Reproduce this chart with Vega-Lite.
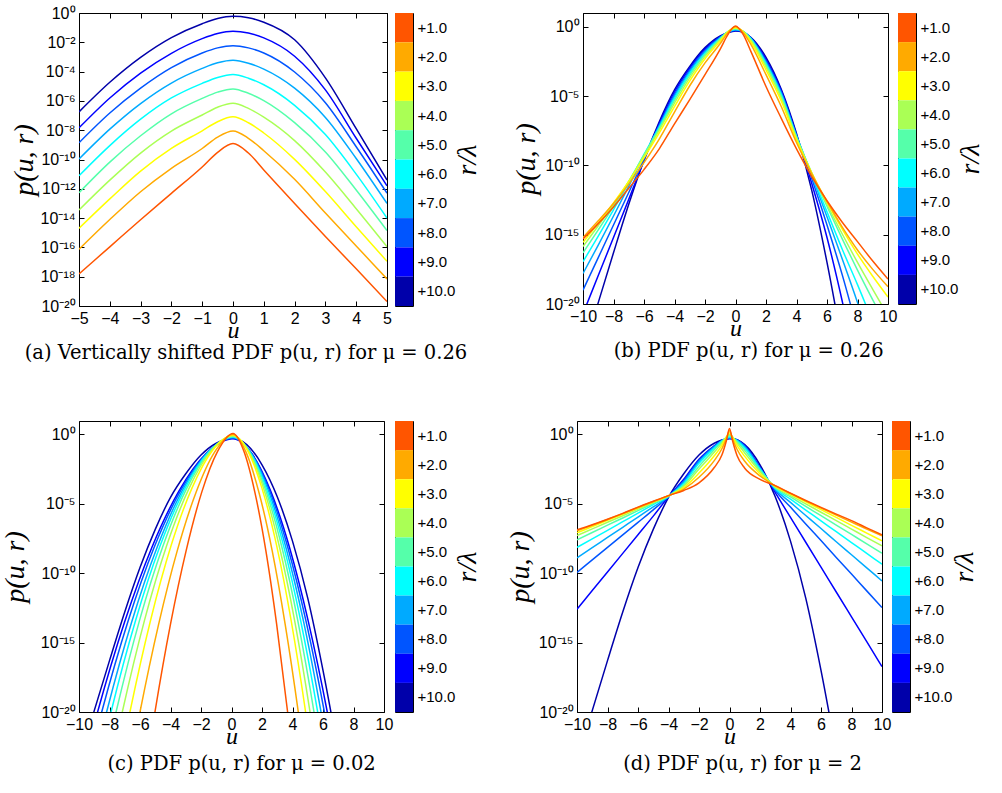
{
"$schema": "https://vega.github.io/schema/vega-lite/v6.json",
"padding": {"left": 0, "top": 4, "right": 5, "bottom": 5},
"config": {
  "font": "Liberation Sans",
  "view": {"stroke": "#000", "strokeWidth": 1},
  "axis": {"labelFont": "Liberation Sans", "labelFontSize": 16, "labelColor": "#000", "tickColor": "#000", "titleColor": "#000", "grid": false, "domain": false, "tickSize": -5, "labelPadding": 9, "labelOverlap": false, "labelFlush": false, "titleFont": "Liberation Serif", "titleFontStyle": "italic", "titleFontWeight": "normal", "titleFontSize": 28},
  "axisX": {"titleFontSize": 24},
  "title": {"font": "DejaVu Serif", "fontSize": 19.5, "fontWeight": "normal", "color": "#000", "orient": "bottom", "anchor": "middle", "offset": 1}
},
"datasets": {
"cbar": [{"r":1,"lab":"+1.0","w":1},{"r":2,"lab":"+2.0","w":1},{"r":3,"lab":"+3.0","w":1},{"r":4,"lab":"+4.0","w":1},{"r":5,"lab":"+5.0","w":1},{"r":6,"lab":"+6.0","w":1},{"r":7,"lab":"+7.0","w":1},{"r":8,"lab":"+8.0","w":1},{"r":9,"lab":"+9.0","w":1},{"r":10,"lab":"+10.0","w":1}],
"a": [
{"r":10,"u":-5,"log10p":-6.75},{"r":10,"u":-4,"log10p":-4.73},{"r":10,"u":-3,"log10p":-3.03},{"r":10,"u":-2,"log10p":-1.68},{"r":10,"u":-1,"log10p":-0.73},{"r":10,"u":-0.5,"log10p":-0.38},{"r":10,"u":0,"log10p":-0.23},{"r":10,"u":0.5,"log10p":-0.33},{"r":10,"u":1,"log10p":-0.63},{"r":10,"u":2,"log10p":-1.83},{"r":10,"u":3,"log10p":-4.43},{"r":10,"u":4,"log10p":-7.9},{"r":10,"u":5,"log10p":-11.4},
{"r":9,"u":-5,"log10p":-7.84},{"r":9,"u":-4,"log10p":-5.8},{"r":9,"u":-3,"log10p":-4.1},{"r":9,"u":-2,"log10p":-2.75},{"r":9,"u":-1,"log10p":-1.75},{"r":9,"u":-0.5,"log10p":-1.4},{"r":9,"u":0,"log10p":-1.25},{"r":9,"u":0.5,"log10p":-1.37},{"r":9,"u":1,"log10p":-1.7},{"r":9,"u":2,"log10p":-2.95},{"r":9,"u":3,"log10p":-5.25},{"r":9,"u":4,"log10p":-8.55},{"r":9,"u":5,"log10p":-11.8},
{"r":8,"u":-5,"log10p":-8.86},{"r":8,"u":-4,"log10p":-6.83},{"r":8,"u":-3,"log10p":-5.13},{"r":8,"u":-2,"log10p":-3.73},{"r":8,"u":-1,"log10p":-2.73},{"r":8,"u":-0.5,"log10p":-2.38},{"r":8,"u":0,"log10p":-2.23},{"r":8,"u":0.5,"log10p":-2.38},{"r":8,"u":1,"log10p":-2.73},{"r":8,"u":2,"log10p":-4.03},{"r":8,"u":3,"log10p":-6.13},{"r":8,"u":4,"log10p":-9.13},{"r":8,"u":5,"log10p":-12.3},
{"r":7,"u":-5,"log10p":-9.97},{"r":7,"u":-4,"log10p":-7.93},{"r":7,"u":-3,"log10p":-6.18},{"r":7,"u":-2,"log10p":-4.78},{"r":7,"u":-1,"log10p":-3.78},{"r":7,"u":-0.5,"log10p":-3.4},{"r":7,"u":0,"log10p":-3.23},{"r":7,"u":0.5,"log10p":-3.43},{"r":7,"u":1,"log10p":-3.83},{"r":7,"u":2,"log10p":-5.13},{"r":7,"u":3,"log10p":-7.13},{"r":7,"u":4,"log10p":-9.93},{"r":7,"u":5,"log10p":-13.0},
{"r":6,"u":-5,"log10p":-11.11},{"r":6,"u":-4,"log10p":-9.05},{"r":6,"u":-3,"log10p":-7.25},{"r":6,"u":-2,"log10p":-5.8},{"r":6,"u":-1,"log10p":-4.8},{"r":6,"u":-0.5,"log10p":-4.4},{"r":6,"u":0,"log10p":-4.2},{"r":6,"u":0.5,"log10p":-4.45},{"r":6,"u":1,"log10p":-4.9},{"r":6,"u":2,"log10p":-6.3},{"r":6,"u":3,"log10p":-8.3},{"r":6,"u":4,"log10p":-11.0},{"r":6,"u":5,"log10p":-14.0},
{"r":5,"u":-5,"log10p":-12.27},{"r":5,"u":-4,"log10p":-10.18},{"r":5,"u":-3,"log10p":-8.38},{"r":5,"u":-2,"log10p":-6.88},{"r":5,"u":-1,"log10p":-5.83},{"r":5,"u":-0.5,"log10p":-5.4},{"r":5,"u":0,"log10p":-5.18},{"r":5,"u":0.5,"log10p":-5.48},{"r":5,"u":1,"log10p":-5.98},{"r":5,"u":2,"log10p":-7.48},{"r":5,"u":3,"log10p":-9.48},{"r":5,"u":4,"log10p":-12.08},{"r":5,"u":5,"log10p":-14.85},
{"r":4,"u":-5,"log10p":-13.45},{"r":4,"u":-4,"log10p":-11.41},{"r":4,"u":-3,"log10p":-9.56},{"r":4,"u":-2,"log10p":-8.06},{"r":4,"u":-1,"log10p":-6.96},{"r":4,"u":-0.5,"log10p":-6.43},{"r":4,"u":0,"log10p":-6.16},{"r":4,"u":0.5,"log10p":-6.51},{"r":4,"u":1,"log10p":-7.11},{"r":4,"u":2,"log10p":-8.71},{"r":4,"u":3,"log10p":-10.86},{"r":4,"u":4,"log10p":-13.36},{"r":4,"u":5,"log10p":-15.95},
{"r":3,"u":-5,"log10p":-14.7},{"r":3,"u":-4,"log10p":-12.69},{"r":3,"u":-3,"log10p":-10.79},{"r":3,"u":-2,"log10p":-9.24},{"r":3,"u":-1,"log10p":-8.04},{"r":3,"u":-0.5,"log10p":-7.42},{"r":3,"u":0,"log10p":-7.09},{"r":3,"u":0.5,"log10p":-7.49},{"r":3,"u":1,"log10p":-8.19},{"r":3,"u":2,"log10p":-9.99},{"r":3,"u":3,"log10p":-12.19},{"r":3,"u":4,"log10p":-14.59},{"r":3,"u":5,"log10p":-16.95},
{"r":2,"u":-5,"log10p":-16.13},{"r":2,"u":-4,"log10p":-14.1},{"r":2,"u":-3,"log10p":-12.2},{"r":2,"u":-2,"log10p":-10.6},{"r":2,"u":-1,"log10p":-9.25},{"r":2,"u":-0.5,"log10p":-8.47},{"r":2,"u":0,"log10p":-8.05},{"r":2,"u":0.5,"log10p":-8.55},{"r":2,"u":1,"log10p":-9.4},{"r":2,"u":2,"log10p":-11.35},{"r":2,"u":3,"log10p":-13.65},{"r":2,"u":4,"log10p":-15.9},{"r":2,"u":5,"log10p":-18.15},
{"r":1,"u":-5,"log10p":-17.81},{"r":1,"u":-4,"log10p":-15.96},{"r":1,"u":-3,"log10p":-14.11},{"r":1,"u":-2,"log10p":-12.31},{"r":1,"u":-1,"log10p":-10.51},{"r":1,"u":-0.5,"log10p":-9.51},{"r":1,"u":0,"log10p":-8.91},{"r":1,"u":0.5,"log10p":-9.56},{"r":1,"u":1,"log10p":-10.71},{"r":1,"u":2,"log10p":-13.01},{"r":1,"u":3,"log10p":-15.26},{"r":1,"u":4,"log10p":-17.46},{"r":1,"u":5,"log10p":-19.7}
],
"b": [
{"r":10,"u":-10,"log10p":-23.6},{"r":10,"u":-9,"log10p":-19.9},{"r":10,"u":-8,"log10p":-16.3},{"r":10,"u":-7,"log10p":-12.8},{"r":10,"u":-6,"log10p":-9.6},{"r":10,"u":-5,"log10p":-6.85},{"r":10,"u":-4,"log10p":-4.55},{"r":10,"u":-3,"log10p":-2.85},{"r":10,"u":-2,"log10p":-1.5},{"r":10,"u":-1,"log10p":-0.65},{"r":10,"u":-0.5,"log10p":-0.42},{"r":10,"u":0,"log10p":-0.3},{"r":10,"u":0.5,"log10p":-0.4},{"r":10,"u":1,"log10p":-0.75},{"r":10,"u":2,"log10p":-2.2},{"r":10,"u":3,"log10p":-4.5},{"r":10,"u":4,"log10p":-7.7},{"r":10,"u":5,"log10p":-11.8},{"r":10,"u":6,"log10p":-17.0},{"r":10,"u":7,"log10p":-22.9},
{"r":9,"u":-10,"log10p":-20.7},{"r":9,"u":-9,"log10p":-17.95},{"r":9,"u":-8,"log10p":-15.2},{"r":9,"u":-7,"log10p":-12.45},{"r":9,"u":-6,"log10p":-9.65},{"r":9,"u":-5,"log10p":-6.98},{"r":9,"u":-4,"log10p":-4.7},{"r":9,"u":-3,"log10p":-2.97},{"r":9,"u":-2,"log10p":-1.6},{"r":9,"u":-1,"log10p":-0.7},{"r":9,"u":-0.5,"log10p":-0.41},{"r":9,"u":0,"log10p":-0.27},{"r":9,"u":0.5,"log10p":-0.38},{"r":9,"u":1,"log10p":-0.78},{"r":9,"u":2,"log10p":-2.35},{"r":9,"u":3,"log10p":-4.6},{"r":9,"u":4,"log10p":-7.8},{"r":9,"u":5,"log10p":-11.3},{"r":9,"u":6,"log10p":-15.2},{"r":9,"u":7,"log10p":-19.8},{"r":9,"u":8,"log10p":-25.0},
{"r":8,"u":-10,"log10p":-19.0},{"r":8,"u":-9,"log10p":-16.65},{"r":8,"u":-8,"log10p":-14.3},{"r":8,"u":-7,"log10p":-11.95},{"r":8,"u":-6,"log10p":-9.55},{"r":8,"u":-5,"log10p":-7.1},{"r":8,"u":-4,"log10p":-4.85},{"r":8,"u":-3,"log10p":-3.1},{"r":8,"u":-2,"log10p":-1.7},{"r":8,"u":-1,"log10p":-0.74},{"r":8,"u":-0.5,"log10p":-0.4},{"r":8,"u":0,"log10p":-0.24},{"r":8,"u":0.5,"log10p":-0.35},{"r":8,"u":1,"log10p":-0.8},{"r":8,"u":2,"log10p":-2.45},{"r":8,"u":3,"log10p":-4.7},{"r":8,"u":4,"log10p":-7.85},{"r":8,"u":5,"log10p":-10.95},{"r":8,"u":6,"log10p":-14.3},{"r":8,"u":7,"log10p":-17.9},{"r":8,"u":8,"log10p":-21.9},
{"r":7,"u":-10,"log10p":-17.8},{"r":7,"u":-9,"log10p":-15.75},{"r":7,"u":-8,"log10p":-13.65},{"r":7,"u":-7,"log10p":-11.5},{"r":7,"u":-6,"log10p":-9.3},{"r":7,"u":-5,"log10p":-7.15},{"r":7,"u":-4,"log10p":-5.0},{"r":7,"u":-3,"log10p":-3.22},{"r":7,"u":-2,"log10p":-1.8},{"r":7,"u":-1,"log10p":-0.78},{"r":7,"u":-0.5,"log10p":-0.39},{"r":7,"u":0,"log10p":-0.21},{"r":7,"u":0.5,"log10p":-0.34},{"r":7,"u":1,"log10p":-0.82},{"r":7,"u":2,"log10p":-2.55},{"r":7,"u":3,"log10p":-4.8},{"r":7,"u":4,"log10p":-7.85},{"r":7,"u":5,"log10p":-10.7},{"r":7,"u":6,"log10p":-13.7},{"r":7,"u":7,"log10p":-16.75},{"r":7,"u":8,"log10p":-19.9},{"r":7,"u":9,"log10p":-23.3},
{"r":6,"u":-10,"log10p":-16.95},{"r":6,"u":-9,"log10p":-15.1},{"r":6,"u":-8,"log10p":-13.2},{"r":6,"u":-7,"log10p":-11.25},{"r":6,"u":-6,"log10p":-9.2},{"r":6,"u":-5,"log10p":-7.25},{"r":6,"u":-4,"log10p":-5.15},{"r":6,"u":-3,"log10p":-3.35},{"r":6,"u":-2,"log10p":-1.9},{"r":6,"u":-1,"log10p":-0.82},{"r":6,"u":-0.5,"log10p":-0.37},{"r":6,"u":0,"log10p":-0.18},{"r":6,"u":0.5,"log10p":-0.33},{"r":6,"u":1,"log10p":-0.85},{"r":6,"u":2,"log10p":-2.65},{"r":6,"u":3,"log10p":-4.9},{"r":6,"u":4,"log10p":-7.95},{"r":6,"u":5,"log10p":-10.65},{"r":6,"u":6,"log10p":-13.35},{"r":6,"u":7,"log10p":-16.05},{"r":6,"u":8,"log10p":-18.6},{"r":6,"u":9,"log10p":-21.3},
{"r":5,"u":-10,"log10p":-16.3},{"r":5,"u":-9,"log10p":-14.65},{"r":5,"u":-8,"log10p":-12.95},{"r":5,"u":-7,"log10p":-11.15},{"r":5,"u":-6,"log10p":-9.25},{"r":5,"u":-5,"log10p":-7.35},{"r":5,"u":-4,"log10p":-5.3},{"r":5,"u":-3,"log10p":-3.5},{"r":5,"u":-2,"log10p":-2.0},{"r":5,"u":-1,"log10p":-0.86},{"r":5,"u":-0.5,"log10p":-0.35},{"r":5,"u":0,"log10p":-0.14},{"r":5,"u":0.5,"log10p":-0.32},{"r":5,"u":1,"log10p":-0.9},{"r":5,"u":2,"log10p":-2.75},{"r":5,"u":3,"log10p":-5.0},{"r":5,"u":4,"log10p":-7.95},{"r":5,"u":5,"log10p":-10.55},{"r":5,"u":6,"log10p":-12.95},{"r":5,"u":7,"log10p":-15.3},{"r":5,"u":8,"log10p":-17.55},{"r":5,"u":9,"log10p":-19.7},{"r":5,"u":10,"log10p":-21.8},
{"r":4,"u":-10,"log10p":-15.85},{"r":4,"u":-9,"log10p":-14.35},{"r":4,"u":-8,"log10p":-12.8},{"r":4,"u":-7,"log10p":-11.15},{"r":4,"u":-6,"log10p":-9.3},{"r":4,"u":-5,"log10p":-7.45},{"r":4,"u":-4,"log10p":-5.5},{"r":4,"u":-3,"log10p":-3.68},{"r":4,"u":-2,"log10p":-2.13},{"r":4,"u":-1,"log10p":-0.92},{"r":4,"u":-0.5,"log10p":-0.34},{"r":4,"u":0,"log10p":-0.1},{"r":4,"u":0.5,"log10p":-0.32},{"r":4,"u":1,"log10p":-0.97},{"r":4,"u":2,"log10p":-2.9},{"r":4,"u":3,"log10p":-5.15},{"r":4,"u":4,"log10p":-8.05},{"r":4,"u":5,"log10p":-10.55},{"r":4,"u":6,"log10p":-12.8},{"r":4,"u":7,"log10p":-14.95},{"r":4,"u":8,"log10p":-17.0},{"r":4,"u":9,"log10p":-18.95},{"r":4,"u":10,"log10p":-20.85},
{"r":3,"u":-10,"log10p":-15.55},{"r":3,"u":-9,"log10p":-14.15},{"r":3,"u":-8,"log10p":-12.7},{"r":3,"u":-7,"log10p":-11.15},{"r":3,"u":-6,"log10p":-9.45},{"r":3,"u":-5,"log10p":-7.65},{"r":3,"u":-4,"log10p":-5.75},{"r":3,"u":-3,"log10p":-3.9},{"r":3,"u":-2,"log10p":-2.3},{"r":3,"u":-1,"log10p":-1.02},{"r":3,"u":-0.5,"log10p":-0.36},{"r":3,"u":0,"log10p":-0.06},{"r":3,"u":0.5,"log10p":-0.34},{"r":3,"u":1,"log10p":-1.07},{"r":3,"u":2,"log10p":-3.1},{"r":3,"u":3,"log10p":-5.35},{"r":3,"u":4,"log10p":-8.15},{"r":3,"u":5,"log10p":-10.55},{"r":3,"u":6,"log10p":-12.65},{"r":3,"u":7,"log10p":-14.6},{"r":3,"u":8,"log10p":-16.4},{"r":3,"u":9,"log10p":-18.0},{"r":3,"u":10,"log10p":-19.5},
{"r":2,"u":-10,"log10p":-15.2},{"r":2,"u":-9,"log10p":-14.0},{"r":2,"u":-8,"log10p":-12.75},{"r":2,"u":-7,"log10p":-11.35},{"r":2,"u":-6,"log10p":-9.8},{"r":2,"u":-5,"log10p":-8.1},{"r":2,"u":-4,"log10p":-6.15},{"r":2,"u":-3,"log10p":-4.25},{"r":2,"u":-2,"log10p":-2.6},{"r":2,"u":-1,"log10p":-1.2},{"r":2,"u":-0.5,"log10p":-0.42},{"r":2,"u":0,"log10p":0.0},{"r":2,"u":0.5,"log10p":-0.4},{"r":2,"u":1,"log10p":-1.25},{"r":2,"u":2,"log10p":-3.45},{"r":2,"u":3,"log10p":-5.75},{"r":2,"u":4,"log10p":-8.35},{"r":2,"u":5,"log10p":-10.6},{"r":2,"u":6,"log10p":-12.6},{"r":2,"u":7,"log10p":-14.45},{"r":2,"u":8,"log10p":-16.1},{"r":2,"u":9,"log10p":-17.5},{"r":2,"u":10,"log10p":-18.75},
{"r":1,"u":-10,"log10p":-15.3},{"r":1,"u":-9,"log10p":-14.2},{"r":1,"u":-8,"log10p":-13.0},{"r":1,"u":-7,"log10p":-11.65},{"r":1,"u":-6,"log10p":-10.3},{"r":1,"u":-5,"log10p":-8.8},{"r":1,"u":-4,"log10p":-7.0},{"r":1,"u":-3,"log10p":-5.25},{"r":1,"u":-2,"log10p":-3.45},{"r":1,"u":-1,"log10p":-1.6},{"r":1,"u":-0.5,"log10p":-0.56},{"r":1,"u":0,"log10p":0.06},{"r":1,"u":0.5,"log10p":-0.55},{"r":1,"u":1,"log10p":-1.75},{"r":1,"u":2,"log10p":-4.3},{"r":1,"u":3,"log10p":-6.6},{"r":1,"u":4,"log10p":-8.8},{"r":1,"u":5,"log10p":-10.8},{"r":1,"u":6,"log10p":-12.55},{"r":1,"u":7,"log10p":-14.1},{"r":1,"u":8,"log10p":-15.5},{"r":1,"u":9,"log10p":-16.9},{"r":1,"u":10,"log10p":-18.2}
],
"c": [
{"r":10,"u":-10,"log10p":-23.6},{"r":10,"u":-9,"log10p":-19.9},{"r":10,"u":-8,"log10p":-16.3},{"r":10,"u":-7,"log10p":-12.8},{"r":10,"u":-6,"log10p":-9.6},{"r":10,"u":-5,"log10p":-6.85},{"r":10,"u":-4,"log10p":-4.55},{"r":10,"u":-3,"log10p":-2.85},{"r":10,"u":-2,"log10p":-1.5},{"r":10,"u":-1,"log10p":-0.65},{"r":10,"u":-0.5,"log10p":-0.42},{"r":10,"u":0,"log10p":-0.3},{"r":10,"u":0.5,"log10p":-0.4},{"r":10,"u":1,"log10p":-0.75},{"r":10,"u":2,"log10p":-2.2},{"r":10,"u":3,"log10p":-4.5},{"r":10,"u":4,"log10p":-7.7},{"r":10,"u":5,"log10p":-11.8},{"r":10,"u":6,"log10p":-17.0},{"r":10,"u":7,"log10p":-22.9},
{"r":9,"u":-9.67,"log10p":-23.68},{"r":9,"u":-8.78,"log10p":-20},{"r":9,"u":-7.0,"log10p":-13.49},{"r":9,"u":-5.23,"log10p":-8.17},{"r":9,"u":-3.45,"log10p":-4.1},{"r":9,"u":-1.68,"log10p":-1.41},{"r":9,"u":0.1,"log10p":-0.32},{"r":9,"u":1.34,"log10p":-1.41},{"r":9,"u":2.57,"log10p":-4.1},{"r":9,"u":3.81,"log10p":-8.17},{"r":9,"u":5.04,"log10p":-13.49},{"r":9,"u":6.28,"log10p":-20},{"r":9,"u":6.9,"log10p":-23.68},
{"r":8,"u":-9.37,"log10p":-23.69},{"r":8,"u":-8.51,"log10p":-20},{"r":8,"u":-6.79,"log10p":-13.48},{"r":8,"u":-5.07,"log10p":-8.14},{"r":8,"u":-3.34,"log10p":-4.07},{"r":8,"u":-1.62,"log10p":-1.37},{"r":8,"u":0.1,"log10p":-0.28},{"r":8,"u":1.3,"log10p":-1.37},{"r":8,"u":2.5,"log10p":-4.07},{"r":8,"u":3.69,"log10p":-8.14},{"r":8,"u":4.89,"log10p":-13.48},{"r":8,"u":6.09,"log10p":-20},{"r":8,"u":6.69,"log10p":-23.69},
{"r":7,"u":-9.02,"log10p":-23.7},{"r":7,"u":-8.19,"log10p":-20},{"r":7,"u":-6.53,"log10p":-13.46},{"r":7,"u":-4.87,"log10p":-8.12},{"r":7,"u":-3.22,"log10p":-4.04},{"r":7,"u":-1.56,"log10p":-1.33},{"r":7,"u":0.1,"log10p":-0.24},{"r":7,"u":1.25,"log10p":-1.33},{"r":7,"u":2.41,"log10p":-4.04},{"r":7,"u":3.56,"log10p":-8.12},{"r":7,"u":4.72,"log10p":-13.46},{"r":7,"u":5.87,"log10p":-20},{"r":7,"u":6.45,"log10p":-23.7},
{"r":6,"u":-8.7,"log10p":-23.7},{"r":6,"u":-7.9,"log10p":-20},{"r":6,"u":-6.3,"log10p":-13.45},{"r":6,"u":-4.7,"log10p":-8.09},{"r":6,"u":-3.1,"log10p":-4.01},{"r":6,"u":-1.5,"log10p":-1.29},{"r":6,"u":0.1,"log10p":-0.2},{"r":6,"u":1.21,"log10p":-1.29},{"r":6,"u":2.32,"log10p":-4.01},{"r":6,"u":3.43,"log10p":-8.09},{"r":6,"u":4.54,"log10p":-13.45},{"r":6,"u":5.65,"log10p":-20},{"r":6,"u":6.21,"log10p":-23.7},
{"r":5,"u":-8.34,"log10p":-23.71},{"r":5,"u":-7.57,"log10p":-20},{"r":5,"u":-6.04,"log10p":-13.44},{"r":5,"u":-4.5,"log10p":-8.07},{"r":5,"u":-2.97,"log10p":-3.97},{"r":5,"u":-1.43,"log10p":-1.26},{"r":5,"u":0.1,"log10p":-0.16},{"r":5,"u":1.16,"log10p":-1.26},{"r":5,"u":2.22,"log10p":-3.97},{"r":5,"u":3.29,"log10p":-8.07},{"r":5,"u":4.35,"log10p":-13.44},{"r":5,"u":5.41,"log10p":-20},{"r":5,"u":5.94,"log10p":-23.71},
{"r":4,"u":-7.89,"log10p":-23.72},{"r":4,"u":-7.16,"log10p":-20},{"r":4,"u":-5.71,"log10p":-13.42},{"r":4,"u":-4.26,"log10p":-8.05},{"r":4,"u":-2.8,"log10p":-3.94},{"r":4,"u":-1.35,"log10p":-1.22},{"r":4,"u":0.1,"log10p":-0.12},{"r":4,"u":1.11,"log10p":-1.22},{"r":4,"u":2.12,"log10p":-3.94},{"r":4,"u":3.13,"log10p":-8.05},{"r":4,"u":4.14,"log10p":-13.42},{"r":4,"u":5.15,"log10p":-20},{"r":4,"u":5.66,"log10p":-23.72},
{"r":3,"u":-7.34,"log10p":-23.73},{"r":3,"u":-6.66,"log10p":-20},{"r":3,"u":-5.31,"log10p":-13.41},{"r":3,"u":-3.96,"log10p":-8.02},{"r":3,"u":-2.6,"log10p":-3.9},{"r":3,"u":-1.25,"log10p":-1.17},{"r":3,"u":0.1,"log10p":-0.07},{"r":3,"u":1.05,"log10p":-1.17},{"r":3,"u":2.0,"log10p":-3.9},{"r":3,"u":2.96,"log10p":-8.02},{"r":3,"u":3.91,"log10p":-13.41},{"r":3,"u":4.86,"log10p":-20},{"r":3,"u":5.34,"log10p":-23.73},
{"r":2,"u":-6.61,"log10p":-23.51},{"r":2,"u":-6.0,"log10p":-20},{"r":2,"u":-4.78,"log10p":-13.69},{"r":2,"u":-3.56,"log10p":-8.4},{"r":2,"u":-2.34,"log10p":-4.23},{"r":2,"u":-1.12,"log10p":-1.31},{"r":2,"u":0.1,"log10p":-0.02},{"r":2,"u":0.96,"log10p":-1.31},{"r":2,"u":1.81,"log10p":-4.23},{"r":2,"u":2.67,"log10p":-8.4},{"r":2,"u":3.52,"log10p":-13.69},{"r":2,"u":4.38,"log10p":-20},{"r":2,"u":4.81,"log10p":-23.51},
{"r":1,"u":-5.53,"log10p":-23.52},{"r":1,"u":-5.02,"log10p":-20},{"r":1,"u":-4.0,"log10p":-13.67},{"r":1,"u":-2.97,"log10p":-8.36},{"r":1,"u":-1.95,"log10p":-4.17},{"r":1,"u":-0.92,"log10p":-1.25},{"r":1,"u":0.1,"log10p":0.05},{"r":1,"u":0.82,"log10p":-1.25},{"r":1,"u":1.53,"log10p":-4.17},{"r":1,"u":2.25,"log10p":-8.36},{"r":1,"u":2.96,"log10p":-13.67},{"r":1,"u":3.68,"log10p":-20},{"r":1,"u":4.04,"log10p":-23.52}
],
"d": [
{"r":10,"u":-10,"log10p":-23.6},{"r":10,"u":-9,"log10p":-19.9},{"r":10,"u":-8,"log10p":-16.3},{"r":10,"u":-7,"log10p":-12.8},{"r":10,"u":-6,"log10p":-9.6},{"r":10,"u":-5,"log10p":-6.85},{"r":10,"u":-4,"log10p":-4.55},{"r":10,"u":-3,"log10p":-2.85},{"r":10,"u":-2,"log10p":-1.5},{"r":10,"u":-1,"log10p":-0.65},{"r":10,"u":-0.5,"log10p":-0.42},{"r":10,"u":0,"log10p":-0.3},{"r":10,"u":0.5,"log10p":-0.4},{"r":10,"u":1,"log10p":-0.75},{"r":10,"u":2,"log10p":-2.2},{"r":10,"u":3,"log10p":-4.5},{"r":10,"u":4,"log10p":-7.7},{"r":10,"u":5,"log10p":-11.8},{"r":10,"u":6,"log10p":-17.0},{"r":10,"u":7,"log10p":-22.9},
{"r":9,"u":-10,"log10p":-12.6},{"r":9,"u":-9,"log10p":-11.26},{"r":9,"u":-8,"log10p":-9.92},{"r":9,"u":-7,"log10p":-8.58},{"r":9,"u":-6,"log10p":-7.24},{"r":9,"u":-5,"log10p":-5.9},{"r":9,"u":-4,"log10p":-4.5},{"r":9,"u":-3,"log10p":-3.25},{"r":9,"u":-2,"log10p":-1.8},{"r":9,"u":-1,"log10p":-0.83},{"r":9,"u":-0.5,"log10p":-0.45},{"r":9,"u":0,"log10p":-0.32},{"r":9,"u":0.5,"log10p":-0.41},{"r":9,"u":1,"log10p":-0.82},{"r":9,"u":2,"log10p":-2.4},{"r":9,"u":3,"log10p":-4.2},{"r":9,"u":4,"log10p":-5.99},{"r":9,"u":5,"log10p":-7.78},{"r":9,"u":6,"log10p":-9.57},{"r":9,"u":7,"log10p":-11.36},{"r":9,"u":8,"log10p":-13.15},{"r":9,"u":9,"log10p":-14.94},{"r":9,"u":10,"log10p":-16.73},
{"r":8,"u":-10,"log10p":-9.95},{"r":8,"u":-9,"log10p":-9.05},{"r":8,"u":-8,"log10p":-8.15},{"r":8,"u":-7,"log10p":-7.25},{"r":8,"u":-6,"log10p":-6.35},{"r":8,"u":-5,"log10p":-5.45},{"r":8,"u":-4,"log10p":-4.48},{"r":8,"u":-3,"log10p":-3.35},{"r":8,"u":-2,"log10p":-1.88},{"r":8,"u":-1,"log10p":-0.86},{"r":8,"u":-0.5,"log10p":-0.46},{"r":8,"u":0,"log10p":-0.3},{"r":8,"u":0.5,"log10p":-0.42},{"r":8,"u":1,"log10p":-0.85},{"r":8,"u":2,"log10p":-2.42},{"r":8,"u":3,"log10p":-4.05},{"r":8,"u":4,"log10p":-5.25},{"r":8,"u":5,"log10p":-6.46},{"r":8,"u":6,"log10p":-7.66},{"r":8,"u":7,"log10p":-8.87},{"r":8,"u":8,"log10p":-10.07},{"r":8,"u":9,"log10p":-11.28},{"r":8,"u":10,"log10p":-12.48},
{"r":7,"u":-10,"log10p":-8.9},{"r":7,"u":-9,"log10p":-8.17},{"r":7,"u":-8,"log10p":-7.43},{"r":7,"u":-7,"log10p":-6.7},{"r":7,"u":-6,"log10p":-5.97},{"r":7,"u":-5,"log10p":-5.23},{"r":7,"u":-4,"log10p":-4.5},{"r":7,"u":-3,"log10p":-3.45},{"r":7,"u":-2,"log10p":-1.98},{"r":7,"u":-1,"log10p":-0.92},{"r":7,"u":-0.5,"log10p":-0.47},{"r":7,"u":0,"log10p":-0.26},{"r":7,"u":0.5,"log10p":-0.44},{"r":7,"u":1,"log10p":-0.9},{"r":7,"u":2,"log10p":-2.45},{"r":7,"u":3,"log10p":-3.97},{"r":7,"u":4,"log10p":-4.91},{"r":7,"u":5,"log10p":-5.85},{"r":7,"u":6,"log10p":-6.79},{"r":7,"u":7,"log10p":-7.74},{"r":7,"u":8,"log10p":-8.68},{"r":7,"u":9,"log10p":-9.62},{"r":7,"u":10,"log10p":-10.56},
{"r":6,"u":-10,"log10p":-8.15},{"r":6,"u":-9,"log10p":-7.53},{"r":6,"u":-8,"log10p":-6.92},{"r":6,"u":-7,"log10p":-6.3},{"r":6,"u":-6,"log10p":-5.68},{"r":6,"u":-5,"log10p":-5.07},{"r":6,"u":-4,"log10p":-4.47},{"r":6,"u":-3,"log10p":-3.55},{"r":6,"u":-2,"log10p":-2.1},{"r":6,"u":-1,"log10p":-1.0},{"r":6,"u":-0.5,"log10p":-0.5},{"r":6,"u":0,"log10p":-0.2},{"r":6,"u":0.5,"log10p":-0.48},{"r":6,"u":1,"log10p":-1.0},{"r":6,"u":2,"log10p":-2.5},{"r":6,"u":3,"log10p":-3.9},{"r":6,"u":4,"log10p":-4.68},{"r":6,"u":5,"log10p":-5.46},{"r":6,"u":6,"log10p":-6.24},{"r":6,"u":7,"log10p":-7.02},{"r":6,"u":8,"log10p":-7.8},{"r":6,"u":9,"log10p":-8.58},{"r":6,"u":10,"log10p":-9.36},
{"r":5,"u":-10,"log10p":-7.6},{"r":5,"u":-9,"log10p":-7.08},{"r":5,"u":-8,"log10p":-6.55},{"r":5,"u":-7,"log10p":-6.03},{"r":5,"u":-6,"log10p":-5.5},{"r":5,"u":-5,"log10p":-4.98},{"r":5,"u":-4,"log10p":-4.45},{"r":5,"u":-3,"log10p":-3.65},{"r":5,"u":-2,"log10p":-2.3},{"r":5,"u":-1,"log10p":-1.12},{"r":5,"u":-0.5,"log10p":-0.55},{"r":5,"u":0,"log10p":-0.12},{"r":5,"u":0.5,"log10p":-0.55},{"r":5,"u":1,"log10p":-1.15},{"r":5,"u":2,"log10p":-2.6},{"r":5,"u":3,"log10p":-3.85},{"r":5,"u":4,"log10p":-4.52},{"r":5,"u":5,"log10p":-5.2},{"r":5,"u":6,"log10p":-5.87},{"r":5,"u":7,"log10p":-6.55},{"r":5,"u":8,"log10p":-7.22},{"r":5,"u":9,"log10p":-7.89},{"r":5,"u":10,"log10p":-8.57},
{"r":4,"u":-10,"log10p":-7.3},{"r":4,"u":-9,"log10p":-6.82},{"r":4,"u":-8,"log10p":-6.34},{"r":4,"u":-7,"log10p":-5.87},{"r":4,"u":-6,"log10p":-5.39},{"r":4,"u":-5,"log10p":-4.92},{"r":4,"u":-4,"log10p":-4.45},{"r":4,"u":-3,"log10p":-3.75},{"r":4,"u":-2,"log10p":-2.5},{"r":4,"u":-1,"log10p":-1.3},{"r":4,"u":-0.5,"log10p":-0.65},{"r":4,"u":0,"log10p":-0.02},{"r":4,"u":0.5,"log10p":-0.65},{"r":4,"u":1,"log10p":-1.35},{"r":4,"u":2,"log10p":-2.7},{"r":4,"u":3,"log10p":-3.8},{"r":4,"u":4,"log10p":-4.41},{"r":4,"u":5,"log10p":-5.01},{"r":4,"u":6,"log10p":-5.62},{"r":4,"u":7,"log10p":-6.22},{"r":4,"u":8,"log10p":-6.83},{"r":4,"u":9,"log10p":-7.44},{"r":4,"u":10,"log10p":-8.04},
{"r":3,"u":-10,"log10p":-7.1},{"r":3,"u":-9,"log10p":-6.65},{"r":3,"u":-8,"log10p":-6.2},{"r":3,"u":-7,"log10p":-5.76},{"r":3,"u":-6,"log10p":-5.31},{"r":3,"u":-5,"log10p":-4.87},{"r":3,"u":-4,"log10p":-4.43},{"r":3,"u":-3,"log10p":-3.85},{"r":3,"u":-2,"log10p":-2.8},{"r":3,"u":-1,"log10p":-1.55},{"r":3,"u":-0.5,"log10p":-0.8},{"r":3,"u":-0.2,"log10p":-0.2},{"r":3,"u":0,"log10p":0.1},{"r":3,"u":0.2,"log10p":-0.22},{"r":3,"u":0.5,"log10p":-0.82},{"r":3,"u":1,"log10p":-1.6},{"r":3,"u":2,"log10p":-2.85},{"r":3,"u":3,"log10p":-3.75},{"r":3,"u":4,"log10p":-4.31},{"r":3,"u":5,"log10p":-4.87},{"r":3,"u":6,"log10p":-5.43},{"r":3,"u":7,"log10p":-5.99},{"r":3,"u":8,"log10p":-6.56},{"r":3,"u":9,"log10p":-7.12},{"r":3,"u":10,"log10p":-7.68},
{"r":2,"u":-10,"log10p":-6.95},{"r":2,"u":-9,"log10p":-6.55},{"r":2,"u":-8,"log10p":-6.14},{"r":2,"u":-7,"log10p":-5.72},{"r":2,"u":-6,"log10p":-5.28},{"r":2,"u":-5,"log10p":-4.85},{"r":2,"u":-4,"log10p":-4.43},{"r":2,"u":-3,"log10p":-3.95},{"r":2,"u":-2,"log10p":-3.1},{"r":2,"u":-1,"log10p":-1.9},{"r":2,"u":-0.5,"log10p":-1.05},{"r":2,"u":-0.2,"log10p":-0.3},{"r":2,"u":0,"log10p":0.25},{"r":2,"u":0.2,"log10p":-0.32},{"r":2,"u":0.5,"log10p":-1.1},{"r":2,"u":1,"log10p":-1.95},{"r":2,"u":2,"log10p":-3.0},{"r":2,"u":3,"log10p":-3.72},{"r":2,"u":4,"log10p":-4.26},{"r":2,"u":5,"log10p":-4.8},{"r":2,"u":6,"log10p":-5.32},{"r":2,"u":7,"log10p":-5.83},{"r":2,"u":8,"log10p":-6.33},{"r":2,"u":9,"log10p":-6.83},{"r":2,"u":10,"log10p":-7.32},
{"r":1,"u":-10,"log10p":-6.89},{"r":1,"u":-9,"log10p":-6.52},{"r":1,"u":-8,"log10p":-6.12},{"r":1,"u":-7,"log10p":-5.7},{"r":1,"u":-6,"log10p":-5.25},{"r":1,"u":-5,"log10p":-4.83},{"r":1,"u":-4,"log10p":-4.42},{"r":1,"u":-3,"log10p":-4.05},{"r":1,"u":-2,"log10p":-3.5},{"r":1,"u":-1,"log10p":-2.4},{"r":1,"u":-0.5,"log10p":-1.5},{"r":1,"u":-0.2,"log10p":-0.45},{"r":1,"u":0,"log10p":0.41},{"r":1,"u":0.2,"log10p":-0.47},{"r":1,"u":0.5,"log10p":-1.55},{"r":1,"u":1,"log10p":-2.45},{"r":1,"u":2,"log10p":-3.25},{"r":1,"u":3,"log10p":-3.7},{"r":1,"u":4,"log10p":-4.25},{"r":1,"u":5,"log10p":-4.77},{"r":1,"u":6,"log10p":-5.27},{"r":1,"u":7,"log10p":-5.75},{"r":1,"u":8,"log10p":-6.22},{"r":1,"u":9,"log10p":-6.74},{"r":1,"u":10,"log10p":-7.25}
]
},
"vconcat": [
 {"hconcat": [
  {"title": "(a) Vertically shifted PDF p(u, r) for μ = 0.26", "spacing": 2, "hconcat": [
   {"width": 308, "height": 293, "data": {"name": "a"},
    "layer": [
     {"mark": {"type": "line", "clip": true, "strokeWidth": 1.5, "interpolate": "monotone"},
      "encoding": {
       "x": {"field": "u", "type": "quantitative", "scale": {"domain": [-5, 5], "nice": false, "zero": false}, "axis": {"orient": "bottom", "values": [-5,-4,-3,-2,-1,0,1,2,3,4,5], "title": "u", "titlePadding": -8}},
       "y": {"field": "log10p", "type": "quantitative", "scale": {"domain": [-20, 0], "nice": false, "zero": false}, "axis": {"orient": "left", "values": [0,-2,-4,-6,-8,-10,-12,-14,-16,-18,-20], "title": "p(u, r)", "titlePadding": 2, "labelExpr": "'10' + replace(replace(replace(replace(replace(replace(replace(replace(replace(replace(format(datum.value, 'd'), '−', '⁻'), '-', '⁻'), '0', '⁰'), '1', '¹'), '2', '²'), '4', '⁴'), '5', '⁵'), '6', '⁶'), '8', '⁸'), '9', '⁹')"}},
       "color": {"field": "r", "type": "ordinal", "scale": {"domain": [1,2,3,4,5,6,7,8,9,10], "range": ["#ff5500","#ffaa00","#ffff00","#aaff55","#55ffaa","#00ffff","#00aaff","#0055ff","#0000ff","#0000aa"]}, "legend": null}
      }},
     {"mark": {"type": "line", "opacity": 0, "clip": true},
      "encoding": {
       "x": {"field": "u", "type": "quantitative", "scale": {"domain": [-5, 5], "nice": false, "zero": false}, "axis": {"orient": "top", "values": [-5,-4,-3,-2,-1,0,1,2,3,4,5], "labels": false, "title": null, "minExtent": 0}},
       "y": {"field": "log10p", "type": "quantitative", "scale": {"domain": [-20, 0], "nice": false, "zero": false}, "axis": {"orient": "right", "values": [0,-2,-4,-6,-8,-10,-12,-14,-16,-18,-20], "labels": false, "title": null, "minExtent": 0}}
      }}
    ],
    "resolve": {"axis": {"x": "independent", "y": "independent"}}
   },
   {"width": 18, "height": 293, "data": {"name": "cbar"},
    "layer": [
     {"mark": {"type": "bar"},
      "encoding": {
       "x": {"field": "w", "type": "quantitative", "scale": {"domain": [0, 1], "nice": false}, "axis": null},
       "y": {"field": "lab", "type": "ordinal", "sort": ["+1.0","+2.0","+3.0","+4.0","+5.0","+6.0","+7.0","+8.0","+9.0","+10.0"], "scale": {"paddingInner": 0, "paddingOuter": 0}, "axis": {"orient": "right", "title": "r/λ", "titleAngle": 270, "titleFontSize": 28, "titlePadding": 27, "labelFontSize": 15, "labelPadding": 8, "tickSize": -4}},
       "color": {"field": "r", "type": "ordinal", "scale": {"domain": [1,2,3,4,5,6,7,8,9,10], "range": ["#ff5500","#ffaa00","#ffff00","#aaff55","#55ffaa","#00ffff","#00aaff","#0055ff","#0000ff","#0000aa"]}, "legend": null}
      }},
     {"mark": {"type": "bar", "opacity": 0},
      "encoding": {
       "x": {"field": "w", "type": "quantitative", "scale": {"domain": [0, 1], "nice": false}, "axis": null},
       "y": {"field": "lab", "type": "ordinal", "sort": ["+1.0","+2.0","+3.0","+4.0","+5.0","+6.0","+7.0","+8.0","+9.0","+10.0"], "axis": {"orient": "left", "labels": false, "title": null, "tickSize": -4, "minExtent": 0}}
      }}
    ],
    "resolve": {"axis": {"y": "independent"}}
   }
  ]},
  {"title": "(b) PDF p(u, r) for μ = 0.26", "spacing": -2, "hconcat": [
   {"width": 305, "height": 291, "data": {"name": "b"},
    "layer": [
     {"mark": {"type": "line", "clip": true, "strokeWidth": 1.5, "interpolate": "monotone"},
      "encoding": {
       "x": {"field": "u", "type": "quantitative", "scale": {"domain": [-10, 10], "nice": false, "zero": false}, "axis": {"orient": "bottom", "values": [-10,-8,-6,-4,-2,0,2,4,6,8,10], "title": "u", "titlePadding": -8}},
       "y": {"field": "log10p", "type": "quantitative", "scale": {"domain": [-20, 1], "nice": false, "zero": false}, "axis": {"orient": "left", "values": [1,0,-5,-10,-15,-20], "title": "p(u, r)", "titlePadding": 4, "labelExpr": "datum.value > 0.5 ? ' ' : '10' + replace(replace(replace(replace(replace(replace(replace(replace(replace(replace(format(datum.value, 'd'), '−', '⁻'), '-', '⁻'), '0', '⁰'), '1', '¹'), '2', '²'), '4', '⁴'), '5', '⁵'), '6', '⁶'), '8', '⁸'), '9', '⁹')"}},
       "color": {"field": "r", "type": "ordinal", "scale": {"domain": [1,2,3,4,5,6,7,8,9,10], "range": ["#ff5500","#ffaa00","#ffff00","#aaff55","#55ffaa","#00ffff","#00aaff","#0055ff","#0000ff","#0000aa"]}, "legend": null}
      }},
     {"mark": {"type": "line", "opacity": 0, "clip": true},
      "encoding": {
       "x": {"field": "u", "type": "quantitative", "scale": {"domain": [-10, 10], "nice": false, "zero": false}, "axis": {"orient": "top", "values": [-10,-8,-6,-4,-2,0,2,4,6,8,10], "labels": false, "title": null, "minExtent": 0}},
       "y": {"field": "log10p", "type": "quantitative", "scale": {"domain": [-20, 1], "nice": false, "zero": false}, "axis": {"orient": "right", "values": [0,-5,-10,-15,-20], "labels": false, "title": null, "minExtent": 0}}
      }}
    ],
    "resolve": {"axis": {"x": "independent", "y": "independent"}}
   },
   {"width": 18, "height": 291, "data": {"name": "cbar"},
    "layer": [
     {"mark": {"type": "bar"},
      "encoding": {
       "x": {"field": "w", "type": "quantitative", "scale": {"domain": [0, 1], "nice": false}, "axis": null},
       "y": {"field": "lab", "type": "ordinal", "sort": ["+1.0","+2.0","+3.0","+4.0","+5.0","+6.0","+7.0","+8.0","+9.0","+10.0"], "scale": {"paddingInner": 0, "paddingOuter": 0}, "axis": {"orient": "right", "title": "r/λ", "titleAngle": 270, "titleFontSize": 28, "titlePadding": 27, "labelFontSize": 15, "labelPadding": 8, "tickSize": -4}},
       "color": {"field": "r", "type": "ordinal", "scale": {"domain": [1,2,3,4,5,6,7,8,9,10], "range": ["#ff5500","#ffaa00","#ffff00","#aaff55","#55ffaa","#00ffff","#00aaff","#0055ff","#0000ff","#0000aa"]}, "legend": null}
      }},
     {"mark": {"type": "bar", "opacity": 0},
      "encoding": {
       "x": {"field": "w", "type": "quantitative", "scale": {"domain": [0, 1], "nice": false}, "axis": null},
       "y": {"field": "lab", "type": "ordinal", "sort": ["+1.0","+2.0","+3.0","+4.0","+5.0","+6.0","+7.0","+8.0","+9.0","+10.0"], "axis": {"orient": "left", "labels": false, "title": null, "tickSize": -4, "minExtent": 0}}
      }}
    ],
    "resolve": {"axis": {"y": "independent"}}
   }
  ]}
 ], "spacing": 28},
 {"hconcat": [
  {"title": {"text": "(c) PDF p(u, r) for μ = 0.02", "offset": 6}, "spacing": 0, "hconcat": [
   {"width": 305, "height": 291, "data": {"name": "c"},
    "layer": [
     {"mark": {"type": "line", "clip": true, "strokeWidth": 1.5, "interpolate": "monotone"},
      "encoding": {
       "x": {"field": "u", "type": "quantitative", "scale": {"domain": [-10, 10], "nice": false, "zero": false}, "axis": {"orient": "bottom", "values": [-10,-8,-6,-4,-2,0,2,4,6,8,10], "title": "u", "titlePadding": -8}},
       "y": {"field": "log10p", "type": "quantitative", "scale": {"domain": [-20, 0.95], "nice": false, "zero": false}, "axis": {"orient": "left", "values": [0,-5,-10,-15,-20], "title": "p(u, r)", "titlePadding": 11, "labelExpr": "'10' + replace(replace(replace(replace(replace(replace(replace(replace(replace(replace(format(datum.value, 'd'), '−', '⁻'), '-', '⁻'), '0', '⁰'), '1', '¹'), '2', '²'), '4', '⁴'), '5', '⁵'), '6', '⁶'), '8', '⁸'), '9', '⁹')"}},
       "color": {"field": "r", "type": "ordinal", "scale": {"domain": [1,2,3,4,5,6,7,8,9,10], "range": ["#ff5500","#ffaa00","#ffff00","#aaff55","#55ffaa","#00ffff","#00aaff","#0055ff","#0000ff","#0000aa"]}, "legend": null}
      }},
     {"mark": {"type": "line", "opacity": 0, "clip": true},
      "encoding": {
       "x": {"field": "u", "type": "quantitative", "scale": {"domain": [-10, 10], "nice": false, "zero": false}, "axis": {"orient": "top", "values": [-10,-8,-6,-4,-2,0,2,4,6,8,10], "labels": false, "title": null, "minExtent": 0}},
       "y": {"field": "log10p", "type": "quantitative", "scale": {"domain": [-20, 0.95], "nice": false, "zero": false}, "axis": {"orient": "right", "values": [0,-5,-10,-15,-20], "labels": false, "title": null, "minExtent": 0}}
      }}
    ],
    "resolve": {"axis": {"x": "independent", "y": "independent"}}
   },
   {"width": 18, "height": 291, "data": {"name": "cbar"},
    "layer": [
     {"mark": {"type": "bar"},
      "encoding": {
       "x": {"field": "w", "type": "quantitative", "scale": {"domain": [0, 1], "nice": false}, "axis": null},
       "y": {"field": "lab", "type": "ordinal", "sort": ["+1.0","+2.0","+3.0","+4.0","+5.0","+6.0","+7.0","+8.0","+9.0","+10.0"], "scale": {"paddingInner": 0, "paddingOuter": 0}, "axis": {"orient": "right", "title": "r/λ", "titleAngle": 270, "titleFontSize": 28, "titlePadding": 27, "labelFontSize": 15, "labelPadding": 8, "tickSize": -4}},
       "color": {"field": "r", "type": "ordinal", "scale": {"domain": [1,2,3,4,5,6,7,8,9,10], "range": ["#ff5500","#ffaa00","#ffff00","#aaff55","#55ffaa","#00ffff","#00aaff","#0055ff","#0000ff","#0000aa"]}, "legend": null}
      }},
     {"mark": {"type": "bar", "opacity": 0},
      "encoding": {
       "x": {"field": "w", "type": "quantitative", "scale": {"domain": [0, 1], "nice": false}, "axis": null},
       "y": {"field": "lab", "type": "ordinal", "sort": ["+1.0","+2.0","+3.0","+4.0","+5.0","+6.0","+7.0","+8.0","+9.0","+10.0"], "axis": {"orient": "left", "labels": false, "title": null, "tickSize": -4, "minExtent": 0}}
      }}
    ],
    "resolve": {"axis": {"y": "independent"}}
   }
  ]},
  {"title": {"text": "(d) PDF p(u, r) for μ = 2", "offset": 6}, "spacing": -1, "hconcat": [
   {"width": 305, "height": 291, "data": {"name": "d"},
    "layer": [
     {"mark": {"type": "line", "clip": true, "strokeWidth": 1.5, "interpolate": "monotone"},
      "encoding": {
       "x": {"field": "u", "type": "quantitative", "scale": {"domain": [-10, 10], "nice": false, "zero": false}, "axis": {"orient": "bottom", "values": [-10,-8,-6,-4,-2,0,2,4,6,8,10], "title": "u", "titlePadding": -8}},
       "y": {"field": "log10p", "type": "quantitative", "scale": {"domain": [-20, 0.95], "nice": false, "zero": false}, "axis": {"orient": "left", "values": [0,-5,-10,-15,-20], "title": "p(u, r)", "titlePadding": 4, "labelExpr": "'10' + replace(replace(replace(replace(replace(replace(replace(replace(replace(replace(format(datum.value, 'd'), '−', '⁻'), '-', '⁻'), '0', '⁰'), '1', '¹'), '2', '²'), '4', '⁴'), '5', '⁵'), '6', '⁶'), '8', '⁸'), '9', '⁹')"}},
       "color": {"field": "r", "type": "ordinal", "scale": {"domain": [1,2,3,4,5,6,7,8,9,10], "range": ["#ff5500","#ffaa00","#ffff00","#aaff55","#55ffaa","#00ffff","#00aaff","#0055ff","#0000ff","#0000aa"]}, "legend": null}
      }},
     {"mark": {"type": "line", "opacity": 0, "clip": true},
      "encoding": {
       "x": {"field": "u", "type": "quantitative", "scale": {"domain": [-10, 10], "nice": false, "zero": false}, "axis": {"orient": "top", "values": [-10,-8,-6,-4,-2,0,2,4,6,8,10], "labels": false, "title": null, "minExtent": 0}},
       "y": {"field": "log10p", "type": "quantitative", "scale": {"domain": [-20, 0.95], "nice": false, "zero": false}, "axis": {"orient": "right", "values": [0,-5,-10,-15,-20], "labels": false, "title": null, "minExtent": 0}}
      }}
    ],
    "resolve": {"axis": {"x": "independent", "y": "independent"}}
   },
   {"width": 18, "height": 291, "data": {"name": "cbar"},
    "layer": [
     {"mark": {"type": "bar"},
      "encoding": {
       "x": {"field": "w", "type": "quantitative", "scale": {"domain": [0, 1], "nice": false}, "axis": null},
       "y": {"field": "lab", "type": "ordinal", "sort": ["+1.0","+2.0","+3.0","+4.0","+5.0","+6.0","+7.0","+8.0","+9.0","+10.0"], "scale": {"paddingInner": 0, "paddingOuter": 0}, "axis": {"orient": "right", "title": "r/λ", "titleAngle": 270, "titleFontSize": 28, "titlePadding": 27, "labelFontSize": 15, "labelPadding": 8, "tickSize": -4}},
       "color": {"field": "r", "type": "ordinal", "scale": {"domain": [1,2,3,4,5,6,7,8,9,10], "range": ["#ff5500","#ffaa00","#ffff00","#aaff55","#55ffaa","#00ffff","#00aaff","#0055ff","#0000ff","#0000aa"]}, "legend": null}
      }},
     {"mark": {"type": "bar", "opacity": 0},
      "encoding": {
       "x": {"field": "w", "type": "quantitative", "scale": {"domain": [0, 1], "nice": false}, "axis": null},
       "y": {"field": "lab", "type": "ordinal", "sort": ["+1.0","+2.0","+3.0","+4.0","+5.0","+6.0","+7.0","+8.0","+9.0","+10.0"], "axis": {"orient": "left", "labels": false, "title": null, "tickSize": -4, "minExtent": 0}}
      }}
    ],
    "resolve": {"axis": {"y": "independent"}}
   }
  ]}
 ], "spacing": 22}
],
"spacing": 58
}
